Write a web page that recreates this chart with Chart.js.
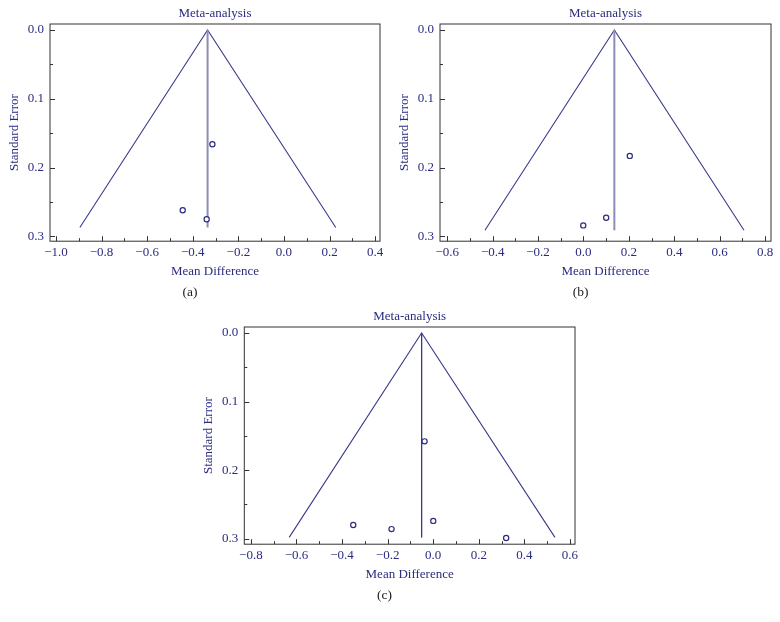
<!DOCTYPE html>
<html>
<head>
<meta charset="utf-8">
<script src="https://cdn.jsdelivr.net/npm/chart.js@4.4.1/dist/chart.umd.min.js"></script>
<style>
  body { margin: 0; background: #fff; }
  #wrap { position: relative; width: 780px; height: 622px; }
  .panel { position: absolute; width: 390px; height: 304px; }
</style>
</head>
<body>
<div id="wrap">
  <div class="panel" style="left:0;top:0"><canvas id="chartA"></canvas></div>
  <div class="panel" style="left:390px;top:0"><canvas id="chartB"></canvas></div>
  <div class="panel" style="left:194px;top:303px"><canvas id="chartC"></canvas></div>
</div>
<script>
// panel (a)
var mdA = [-0.314, -0.444, -0.339];
var seA = [0.166, 0.262, 0.275];
var funnelXA = [-0.895, -0.335, 0.227];
var funnelYA = [0.287, 0, 0.287];
var pooledXA = [-0.335, -0.335];
var pooledYA = [0, 0.287];
var xTicksA = [-1.0, -0.8, -0.6, -0.4, -0.2, 0.0, 0.2, 0.4];
var xMinorA = [-0.9, -0.7, -0.5, -0.3, -0.1, 0.1, 0.3];

// panel (b)
var mdB = [0.204, 0.1, -0.001];
var seB = [0.183, 0.273, 0.284];
var funnelXB = [-0.434, 0.136, 0.707];
var funnelYB = [0.291, 0, 0.291];
var pooledXB = [0.136, 0.136];
var pooledYB = [0, 0.291];
var xTicksB = [-0.6, -0.4, -0.2, 0.0, 0.2, 0.4, 0.6, 0.8];
var xMinorB = [-0.5, -0.3, -0.1, 0.1, 0.3, 0.5, 0.7];

// panel (c)
var mdC = [-0.038, -0.351, -0.183, 0.0, 0.32];
var seC = [0.158, 0.28, 0.286, 0.274, 0.299];
var funnelXC = [-0.632, -0.051, 0.534];
var funnelYC = [0.298, 0, 0.298];
var pooledXC = [-0.051, -0.051];
var pooledYC = [0, 0.298];
var xTicksC = [-0.8, -0.6, -0.4, -0.2, 0.0, 0.2, 0.4, 0.6];
var xMinorC = [-0.7, -0.5, -0.3, -0.1, 0.1, 0.3, 0.5];

var yTicks = [0.0, 0.1, 0.2, 0.3];
var yMinor = [0.05, 0.15, 0.25];

var navy = '#2b2b80';
var serif = '"Liberation Serif", "DejaVu Serif", serif';

function pts(xs, ys) {
  return xs.map(function (v, i) { return {x: v, y: ys[i]}; });
}

function fmt(v) {
  return (v < 0 ? '\u2212' : '') + Math.abs(v).toFixed(1);
}

// frame + inward tick marks, drawn from the chart's own scales
var frameTicks = {
  id: 'frameTicks',
  afterDatasetsDraw: function (chart, args, opts) {
    var ctx = chart.ctx, a = chart.chartArea;
    var sx = chart.scales.x, sy = chart.scales.y;
    ctx.save();
    ctx.strokeStyle = '#333';
    ctx.lineWidth = 1;
    ctx.strokeRect(a.left, a.top, a.right - a.left, a.bottom - a.top);
    ctx.beginPath();
    function xt(v, len) {
      var p = Math.round(sx.getPixelForValue(v)) + 0.5;
      ctx.moveTo(p, a.bottom); ctx.lineTo(p, a.bottom - len);
    }
    function yt(v, len) {
      var p = Math.round(sy.getPixelForValue(v)) + 0.5;
      ctx.moveTo(a.left, p); ctx.lineTo(a.left + len, p);
    }
    opts.xMajor.forEach(function (v) { xt(v, 5); });
    opts.xMinor.forEach(function (v) { xt(v, 3); });
    yTicks.forEach(function (v) { yt(v, 5); });
    yMinor.forEach(function (v) { yt(v, 3); });
    ctx.stroke();
    ctx.restore();
  }
};

function drawFunnel(id, p) {
  var ctx = document.getElementById(id).getContext('2d');
  return new Chart(ctx, {
    type: 'scatter',
    data: {
      datasets: [
        {
          label: 'Studies',
          data: pts(p.md, p.se),
          pointRadius: 2.6,
          pointBorderWidth: 1.2,
          pointBorderColor: navy,
          pointBackgroundColor: '#fff',
          showLine: false
        },
        {
          label: 'Pooled',
          data: pts(p.pooledX, p.pooledY),
          showLine: true,
          borderColor: p.pooledColor,
          borderWidth: p.pooledWidth,
          pointRadius: 0
        },
        {
          label: 'Funnel',
          data: pts(p.funnelX, p.funnelY),
          showLine: true,
          borderColor: '#3a3a8c',
          borderWidth: 1.1,
          pointRadius: 0
        }
      ]
    },
    plugins: [frameTicks],
    options: {
      responsive: true,
      maintainAspectRatio: false,
      animation: false,
      layout: { padding: { left: 0, right: p.padRight, top: 0, bottom: 3.4 } },
      plugins: {
        legend: { display: false },
        tooltip: { enabled: false },
        title: {
          display: true,
          text: 'Meta-analysis',
          fullSize: false,
          color: navy,
          font: { family: serif, size: 13, weight: 'normal' },
          padding: { top: 6, bottom: 2.4 }
        },
        subtitle: {
          display: true,
          text: p.caption,
          position: 'bottom',
          color: '#222',
          font: { family: serif, size: 13.5, weight: 'normal' },
          padding: { top: 3.2, bottom: 0 }
        },
        frameTicks: { xMajor: p.xTicks, xMinor: p.xMinor }
      },
      scales: {
        x: {
          type: 'linear',
          min: p.xMin,
          max: p.xMax,
          afterBuildTicks: function (s) { s.ticks = p.xTicks.map(function (v) { return {value: v}; }); },
          afterFit: function (s) { s.height = 40; },
          grid: { display: false, drawTicks: false },
          border: { display: false },
          ticks: { color: navy, padding: 4, font: { family: serif, size: 13 }, callback: fmt },
          title: {
            display: true,
            text: 'Mean Difference',
            color: navy,
            font: { family: serif, size: 13 },
            padding: { top: 0, bottom: 2 }
          }
        },
        y: {
          type: 'linear',
          reverse: true,
          min: p.yMin,
          max: p.yMax,
          afterBuildTicks: function (s) { s.ticks = yTicks.map(function (v) { return {value: v}; }); },
          afterFit: function (s) { s.width = p.yWidth; },
          grid: { display: false, drawTicks: false },
          border: { display: false },
          ticks: { color: navy, padding: 6, font: { family: serif, size: 13 }, callback: fmt },
          title: {
            display: true,
            text: 'Standard Error',
            color: navy,
            font: { family: serif, size: 13 },
            padding: { top: 7.2, bottom: 0 }
          }
        }
      }
    }
  });
}

drawFunnel('chartA', {
  md: mdA, se: seA, funnelX: funnelXA, funnelY: funnelYA,
  pooledX: pooledXA, pooledY: pooledYA, pooledColor: '#8c8cb8', pooledWidth: 2,
  xTicks: xTicksA, xMinor: xMinorA, xMin: -1.026, xMax: 0.421,
  yMin: -0.0087, yMax: 0.307, yWidth: 50, padRight: 10, caption: '(a)'
});

drawFunnel('chartB', {
  md: mdB, se: seB, funnelX: funnelXB, funnelY: funnelYB,
  pooledX: pooledXB, pooledY: pooledYB, pooledColor: '#8c8cb8', pooledWidth: 2,
  xTicks: xTicksB, xMinor: xMinorB, xMin: -0.632, xMax: 0.826,
  yMin: -0.0087, yMax: 0.307, yWidth: 50, padRight: 9, caption: '(b)'
});

drawFunnel('chartC', {
  md: mdC, se: seC, funnelX: funnelXC, funnelY: funnelYC,
  pooledX: pooledXC, pooledY: pooledYC, pooledColor: '#3a3a8c', pooledWidth: 1,
  xTicks: xTicksC, xMinor: xMinorC, xMin: -0.829, xMax: 0.622,
  yMin: -0.0088, yMax: 0.308, yWidth: 50.3, padRight: 9, caption: '(c)'
});
</script>
</body>
</html>
